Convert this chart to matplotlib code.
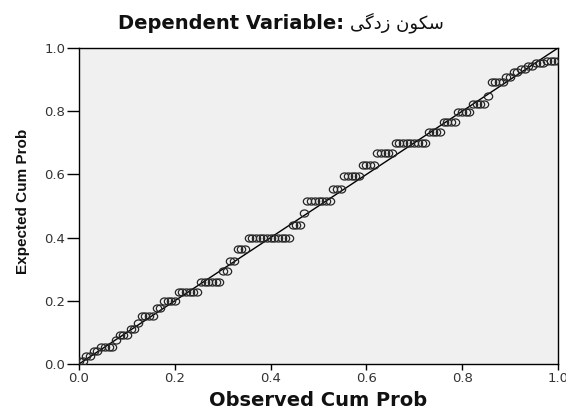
import matplotlib
matplotlib.use('Agg')
import matplotlib.pyplot as plt
from matplotlib.markers import MarkerStyle
from matplotlib.path import Path
from matplotlib.transforms import Affine2D

# text
title_en = 'Dependent Variable:'
# "سکون زدگی" written with presentation forms in visual (left to right) order,
# matplotlib does no arabic shaping itself
title_fa = '\ufbfd\ufb94\ufea9\ufeaf \ufee5\ufeee\ufb91\ufeb3'
x_label = 'Observed Cum Prob'
y_label = 'Expected Cum Prob'
ticks = [0.0, 0.2, 0.4, 0.6, 0.8, 1.0]
tick_labels = ['0.0', '0.2', '0.4', '0.6', '0.8', '1.0']
diagonal = [0.0, 1.0]

# P-P plot points
observed_cum = [
    0.000, 0.008, 0.015, 0.023, 0.031, 0.038, 0.046, 0.054, 0.062, 0.069,
    0.077, 0.085, 0.092, 0.100, 0.108, 0.115, 0.123, 0.131, 0.138, 0.146,
    0.154, 0.162, 0.169, 0.177, 0.185, 0.192, 0.200, 0.208, 0.215, 0.223,
    0.231, 0.238, 0.246, 0.254, 0.262, 0.269, 0.277, 0.285, 0.292, 0.300,
    0.308, 0.315, 0.323, 0.331, 0.338, 0.346, 0.354, 0.362, 0.369, 0.377,
    0.385, 0.392, 0.400, 0.408, 0.415, 0.423, 0.431, 0.438, 0.446, 0.454,
    0.462, 0.469, 0.477, 0.485, 0.492, 0.500, 0.508, 0.515, 0.523, 0.531,
    0.538, 0.546, 0.554, 0.562, 0.569, 0.577, 0.585, 0.592, 0.600, 0.608,
    0.615, 0.623, 0.631, 0.638, 0.646, 0.654, 0.662, 0.669, 0.677, 0.685,
    0.692, 0.700, 0.708, 0.715, 0.723, 0.731, 0.738, 0.746, 0.754, 0.762,
    0.769, 0.777, 0.785, 0.792, 0.800, 0.808, 0.815, 0.823, 0.831, 0.838,
    0.846, 0.854, 0.862, 0.869, 0.877, 0.885, 0.892, 0.900, 0.908, 0.915,
    0.923, 0.931, 0.938, 0.946, 0.954, 0.962, 0.969, 0.977, 0.985, 0.992,
    1.000,
]
expected_cum = [
    0.008, 0.008, 0.025, 0.025, 0.040, 0.040, 0.055, 0.055, 0.055, 0.055,
    0.076, 0.092, 0.092, 0.092, 0.111, 0.111, 0.130, 0.152, 0.152, 0.152,
    0.152, 0.178, 0.178, 0.200, 0.200, 0.200, 0.200, 0.229, 0.229, 0.229,
    0.229, 0.229, 0.229, 0.261, 0.261, 0.261, 0.261, 0.261, 0.261, 0.293,
    0.293, 0.327, 0.327, 0.365, 0.365, 0.365, 0.400, 0.400, 0.400, 0.400,
    0.400, 0.400, 0.400, 0.400, 0.400, 0.400, 0.400, 0.400, 0.441, 0.441,
    0.441, 0.478, 0.515, 0.515, 0.515, 0.515, 0.515, 0.515, 0.515, 0.554,
    0.554, 0.554, 0.595, 0.595, 0.595, 0.595, 0.595, 0.629, 0.629, 0.629,
    0.629, 0.667, 0.667, 0.667, 0.667, 0.667, 0.700, 0.700, 0.700, 0.700,
    0.700, 0.700, 0.700, 0.700, 0.700, 0.734, 0.734, 0.734, 0.734, 0.766,
    0.766, 0.766, 0.766, 0.797, 0.797, 0.797, 0.797, 0.822, 0.822, 0.822,
    0.822, 0.847, 0.891, 0.891, 0.891, 0.891, 0.907, 0.907, 0.923, 0.923,
    0.933, 0.933, 0.944, 0.944, 0.952, 0.952, 0.952, 0.960, 0.960, 0.960,
    0.960,
]

fig = plt.figure(figsize=(5.66, 4.12), dpi=100)
fig.patch.set_facecolor('white')
ax = fig.add_axes([0.1396, 0.1165, 0.8463, 0.767])
ax.set_facecolor('#f0f0f0')

# small open markers, a little flattened like in the picture
ellipse = MarkerStyle(Path.unit_circle().transformed(Affine2D().scale(1.0, 0.85)))
ax.plot(diagonal, diagonal, color='black', lw=1.0, zorder=2)
ax.plot(observed_cum, expected_cum, ls='none', marker=ellipse, markersize=6,
        markerfacecolor='none', markeredgecolor='#262626', markeredgewidth=0.9,
        zorder=3)

ax.set_xlim(0, 1)
ax.set_ylim(0, 1)
ax.set_xticks(ticks)
ax.set_xticklabels(tick_labels)
ax.set_yticks(ticks)
ax.set_yticklabels(tick_labels)

for s in ax.spines.values():
    s.set_color('black')
    s.set_linewidth(1.0)

ax.tick_params(axis='x', direction='out', length=4, width=1, pad=2,
               labelsize=9.5, labelcolor='#333333')
ax.tick_params(axis='y', direction='out', length=9, width=1, pad=1,
               labelsize=9.5, labelcolor='#333333')
for lab in ax.get_xticklabels() + ax.get_yticklabels():
    lab.set_family('DejaVu Sans')

fig.text(0.562, 0.006, x_label, ha='center', va='bottom', fontsize=14,
         fontweight='bold', family='DejaVu Sans', color='#111111')
fig.text(0.041, 0.512, y_label, ha='center', va='center', rotation=90,
         fontsize=11, fontweight='bold',
         family=['Liberation Sans Narrow', 'Liberation Sans'], color='#111111')

fig.text(0.607, 0.944, title_en, ha='right', va='center', fontsize=14,
         fontweight='bold', family='DejaVu Sans', color='#111111')
fig.text(0.618, 0.944, title_fa, ha='left', va='center', fontsize=13,
         family='DejaVu Sans', color='#111111')

fig.savefig('out.png', dpi=100, facecolor='white')
